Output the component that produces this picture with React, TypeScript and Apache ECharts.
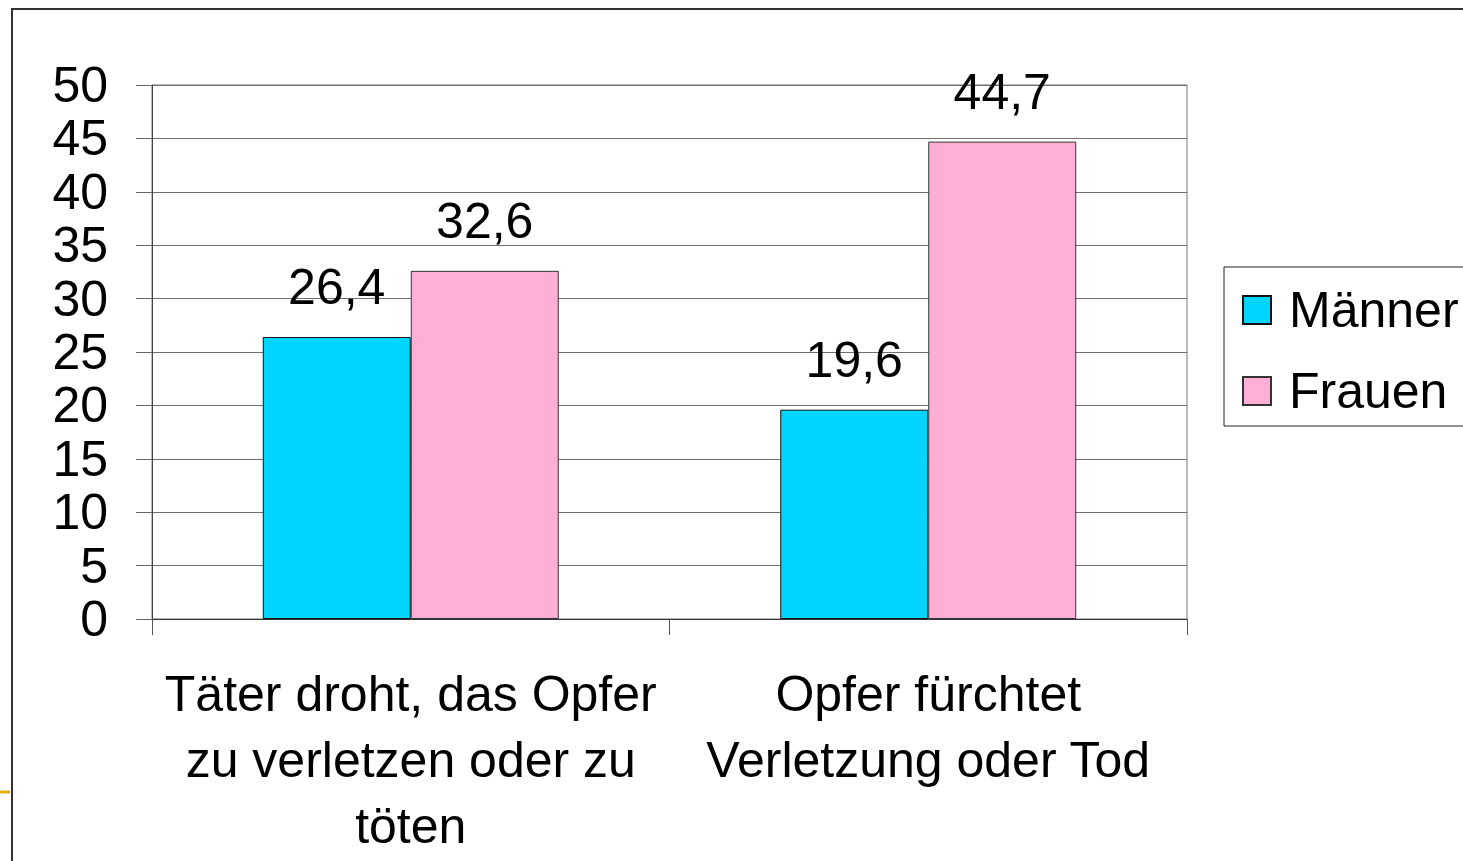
import React, { useEffect, useRef } from "react";
import * as echarts from "echarts";

const categories = [
  "Täter droht, das Opfer\nzu verletzen oder zu\ntöten",
  "Opfer fürchtet\nVerletzung oder Tod",
];
const seriesNames = ["Männer", "Frauen"];
const maennerValues = [26.4, 19.6];
const frauenValues = [32.6, 44.7];
const yTicks = { min: 0, max: 50, interval: 5 };

const FONT = "'Liberation Sans', Arial, sans-serif";

export default function App() {
  const ref = useRef<HTMLDivElement>(null);
  useEffect(() => {
    if (!ref.current) return;
    const chart = echarts.init(ref.current, null, { renderer: "svg" });
    const labelFmt = (p: any) => Number(p.value).toFixed(1).replace(".", ",");
    const label = {
      show: true,
      position: "top",
      distance: 25,
      fontSize: 50,
      fontFamily: FONT,
      color: "#000",
      formatter: labelFmt,
    };
    chart.setOption({
      animation: false,
      backgroundColor: "#fff",
      textStyle: { fontFamily: FONT },
      grid: {
        left: 152,
        top: 85,
        width: 1035,
        height: 534,
        show: true,
        borderColor: "#777",
        borderWidth: 1,
        backgroundColor: "transparent",
      },
      legend: {
        orient: "vertical",
        left: 1224,
        top: 267,
        padding: [18, 20, 10, 18],
        itemWidth: 28,
        itemHeight: 28,
        itemGap: 31,
        selectedMode: false,
        borderColor: "#222",
        borderWidth: 1,
        icon: "rect",
        textStyle: {
          fontSize: 50,
          fontFamily: FONT,
          color: "#000",
          padding: [0, 0, 0, 13],
        },
        data: seriesNames,
      },
      xAxis: {
        type: "category",
        data: categories,
        axisLine: { show: true, lineStyle: { color: "#333", width: 1 } },
        axisTick: { show: true, length: 16, lineStyle: { color: "#555" } },
        axisLabel: {
          interval: 0,
          fontSize: 50,
          lineHeight: 66,
          fontFamily: FONT,
          color: "#000",
          margin: 42,
          align: "center",
        },
      },
      yAxis: {
        type: "value",
        min: yTicks.min,
        max: yTicks.max,
        interval: yTicks.interval,
        axisLine: { show: true, lineStyle: { color: "#444", width: 1 } },
        axisTick: { show: true, length: 16, lineStyle: { color: "#666" } },
        splitLine: { show: true, lineStyle: { color: "#6e6e6e", width: 1 } },
        axisLabel: {
          fontSize: 50,
          fontFamily: FONT,
          color: "#000",
          margin: 44,
        },
      },
      series: [
        {
          name: seriesNames[0],
          type: "bar",
          data: maennerValues,
          barWidth: 148,
          barGap: "0%",
          itemStyle: { color: "#00d5ff", borderColor: "#111", borderWidth: 1 },
          label,
        },
        {
          name: seriesNames[1],
          type: "bar",
          data: frauenValues,
          barWidth: 148,
          barGap: "0%",
          itemStyle: { color: "#ffaed6", borderColor: "#333", borderWidth: 1 },
          label,
        },
      ],
      graphic: [
        {
          type: "rect",
          shape: { x: 12, y: 9, width: 1600, height: 1000 },
          style: { fill: "none", stroke: "#333", lineWidth: 2 },
          silent: true,
        },
        {
          type: "line",
          shape: { x1: 0, y1: 792, x2: 10, y2: 792 },
          style: { stroke: "#e0b000", lineWidth: 3 },
          silent: true,
        },
      ],
    });
    return () => chart.dispose();
  }, []);
  return (
    <div
      ref={ref}
      style={{ position: "fixed", left: 0, top: 0, width: 1463, height: 861 }}
    />
  );
}
